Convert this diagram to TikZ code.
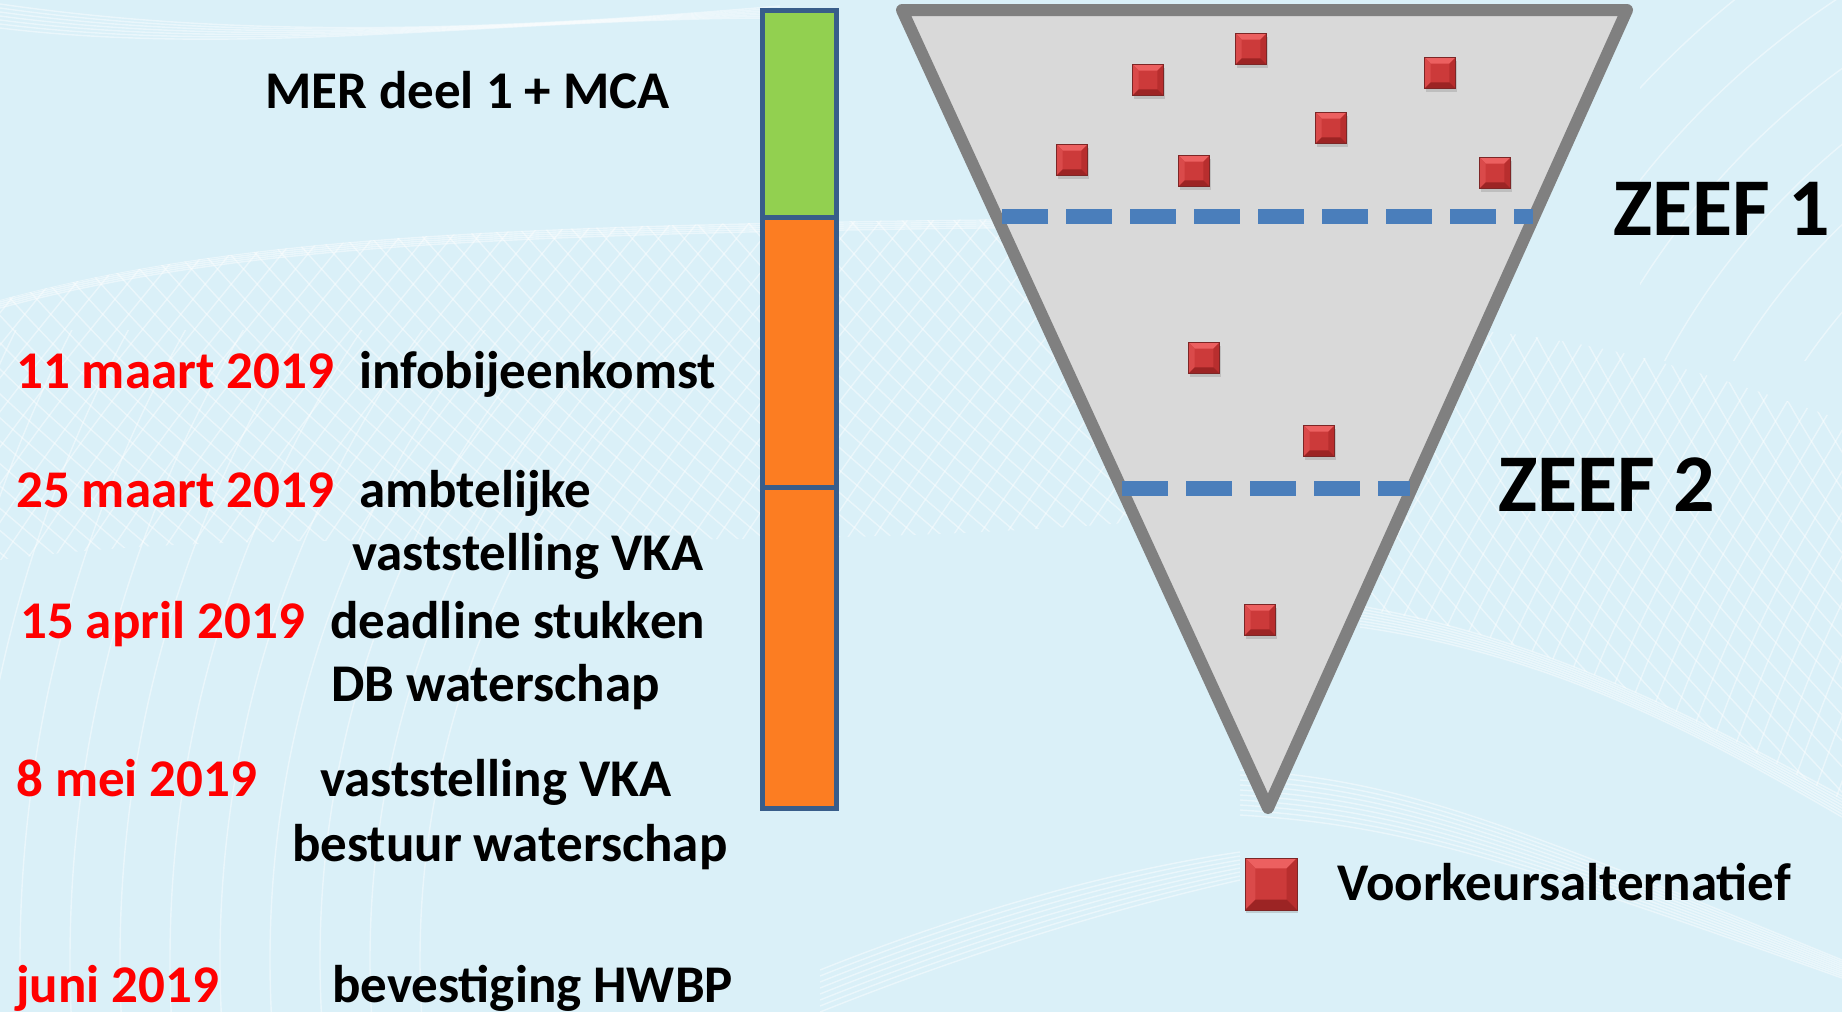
\documentclass[tikz,border=0pt]{standalone}
\usepackage{fontspec}
\setmainfont{Carlito}
\usetikzlibrary{shadows,calc}
\definecolor{bg}{RGB}{218,240,248}
\definecolor{bargreen}{RGB}{146,208,80}
\definecolor{barorange}{RGB}{252,125,34}
\definecolor{barblue}{RGB}{56,93,138}
\definecolor{funnelfill}{RGB}{217,217,217}
\definecolor{funnelline}{RGB}{128,128,128}
\definecolor{sieveblue}{RGB}{74,126,187}
\definecolor{datered}{RGB}{255,0,0}
\definecolor{altface}{RGB}{204,58,58}
\definecolor{alttop}{RGB}{236,96,96}
\definecolor{altleft}{RGB}{218,74,74}
\definecolor{altright}{RGB}{184,46,46}
\definecolor{altbottom}{RGB}{156,36,36}
\definecolor{altedge}{RGB}{125,38,38}
\tikzset{
  seg/.style={draw=barblue, line width=5bp, inner sep=0pt, minimum width=74bp},
  funnel/.style={draw=funnelline, fill=funnelfill, line width=12bp, line join=round},
  sieve/.style={draw=sieveblue, line width=15bp, dash pattern=on 46bp off 18bp},
  lbl/.style={anchor=base west, inner sep=0pt, font=\fontsize{53bp}{64bp}\selectfont\bfseries},
  datelbl/.style={lbl, text=datered},
  zeef/.style={anchor=base west, inner sep=0pt, font=\fontsize{82bp}{96bp}\selectfont\bfseries},
  meshline/.style={white, line width=1.4bp, opacity=0.45},
  alt/.style={minimum size=#1, inner sep=0pt, fill=altface, draw=altedge, line width=0.7bp,
    drop shadow={shadow xshift=1bp, shadow yshift=-3bp, opacity=0.3},
    path picture={
      \coordinate (NW) at (path picture bounding box.north west);
      \coordinate (NE) at (path picture bounding box.north east);
      \coordinate (SW) at (path picture bounding box.south west);
      \coordinate (SE) at (path picture bounding box.south east);
      \coordinate (iNW) at ($(NW)!0.2!(SE)$);
      \coordinate (iNE) at ($(NE)!0.2!(SW)$);
      \coordinate (iSW) at ($(SW)!0.2!(NE)$);
      \coordinate (iSE) at ($(SE)!0.2!(NW)$);
      \fill[alttop] (NW) -- (NE) -- (iNE) -- (iNW) -- cycle;
      \fill[altleft] (NW) -- (iNW) -- (iSW) -- (SW) -- cycle;
      \fill[altright] (NE) -- (SE) -- (iSE) -- (iNE) -- cycle;
      \fill[altbottom] (SW) -- (iSW) -- (iSE) -- (SE) -- cycle;
    }},
  alt/.default=31bp
}
\begin{document}
\begin{tikzpicture}[x=1bp,y=-1bp]
\useasboundingbox (0,0) rectangle (1842,1012);
\fill[bg] (0,0) rectangle (1842,1012);
% background mesh
\begin{scope}
  \clip (0,0) rectangle (1842,1012);
  \begin{scope}[meshline]
    % top-left band
    \foreach \k in {0,...,6}
      \draw (0,4+4*\k) .. controls (250,40+3*\k) and (500,30-2*\k) .. (780,6+2*\k);
    % left mesh below a horizon
    \begin{scope}
      \clip (0,300) .. controls (250,232) and (550,222) .. (1160,218) -- (1160,520)
        .. controls (700,560) and (300,520) .. (0,560) -- cycle;
      \foreach \k in {-12,...,48}
        \draw (\k*26,600) .. controls (\k*26+120,420) .. (\k*26+300,200);
      \foreach \k in {-20,...,44}
        \draw (\k*26,200) .. controls (\k*26+160,380) .. (\k*26+420,600);
      \foreach \k in {0,...,5}
        \draw (0,298+2*\k) .. controls (250,230+2*\k) and (550,222+2*\k) .. (1160,216+2*\k);
    \end{scope}
    % right mesh band
    \begin{scope}
      \clip (1300,600) -- (1380,612) .. controls (1550,640) and (1700,720) .. (1842,800)
        -- (1842,420) .. controls (1700,370) and (1600,340) .. (1470,330) -- cycle;
      \foreach \k in {-10,...,30}
        \draw (1300+\k*24,820) .. controls (1380+\k*24,600) .. (1560+\k*24,300);
      \foreach \k in {-20,...,24}
        \draw (1300+\k*24,300) .. controls (1420+\k*24,520) .. (1700+\k*24,820);
    \end{scope}
    \foreach \k in {0,...,7}
      \draw (1360,606+3*\k) .. controls (1550,640+2*\k) and (1700,720+2*\k) .. (1842,796+3*\k);
    % vertical arcs top right
    \begin{scope}
      \clip (1640,0) rectangle (1842,360);
      \foreach \r in {300,360,...,900}
        \draw (2300,700) circle[radius=\r];
    \end{scope}
    % bottom-right bundle
    \foreach \k in {0,...,9}
      \draw (1240,770+5*\k) .. controls (1400,780+5*\k) and (1500,820+4*\k) .. (1842,960+2*\k);
    \foreach \k in {0,...,7}
      \draw (820,1012-6*\k) .. controls (1000,940-6*\k) and (1150,900-5*\k) .. (1240,880-4*\k);
    % large arcs lower left
    \begin{scope}
      \clip (0,330) rectangle (760,1012);
      \foreach \r in {880,930,...,1430}
        \draw (1300,960) circle[radius=\r];
    \end{scope}
  \end{scope}
\end{scope}

% timeline bar
\node[seg, fill=bargreen, minimum height=207bp] (sgreen) at (799,113.5) {};
\node[seg, fill=barorange, minimum height=270bp] (sor1) at (799,352) {};
\node[seg, fill=barorange, minimum height=321bp] (sor2) at (799,647.5) {};

% funnel
\coordinate (ftl) at (902,10);
\coordinate (ftr) at (1627,10);
\coordinate (fap) at (1268,808);
\draw[funnel] (ftl) -- (ftr) -- (fap) -- cycle;

% sieves
\coordinate (z1l) at (1002,216);
\coordinate (z1r) at (1533,216);
\draw[sieve] (z1l) -- (z1r);
\coordinate (z2l) at (1122,488);
\coordinate (z2r) at (1410,488);
\draw[sieve] (z2l) -- (z2r);

% alternatives
\node[alt] (a1) at (1148,80) {};
\node[alt] (a2) at (1251,49) {};
\node[alt] (a3) at (1440,73) {};
\node[alt] (a4) at (1331,128) {};
\node[alt] (a5) at (1072,160) {};
\node[alt] (a6) at (1194,171) {};
\node[alt] (a7) at (1495,173) {};
\node[alt] (a8) at (1204,358) {};
\node[alt] (a9) at (1319,441) {};
\node[alt] (a10) at (1260,620) {};

% legend
\node[alt=52bp] (leg) at (1271,884) {};
\node[lbl] (legt) at (1337,900) {Voorkeursalternatief};

% zeef labels
\node[zeef] (zeef1) at (1613,235) {ZEEF 1};
\node[zeef] (zeef2) at (1498,511) {ZEEF 2};

% timeline texts
\node[lbl] (mer) at (265,108) {MER deel 1 + MCA};
\node[datelbl] (d1) at (16,388) {11 maart 2019};
\node[lbl] (t1) at (359,388) {infobijeenkomst};
\node[datelbl] (d2) at (16,507) {25 maart 2019};
\node[lbl] (t2) at (359,507) {ambtelijke};
\node[lbl] (t2b) at (352,570) {vaststelling VKA};
\node[datelbl] (d3) at (20,638) {15 april 2019};
\node[lbl] (t3) at (330,638) {deadline stukken};
\node[lbl] (t3b) at (331,701) {DB waterschap};
\node[datelbl] (d4) at (16,796) {8 mei 2019};
\node[lbl] (t4) at (320,796) {vaststelling VKA};
\node[lbl] (t4b) at (292,861) {bestuur waterschap};
\node[datelbl] (d5) at (16,1002) {juni 2019};
\node[lbl] (t5) at (332,1002) {bevestiging HWBP};
\end{tikzpicture}
\end{document}
